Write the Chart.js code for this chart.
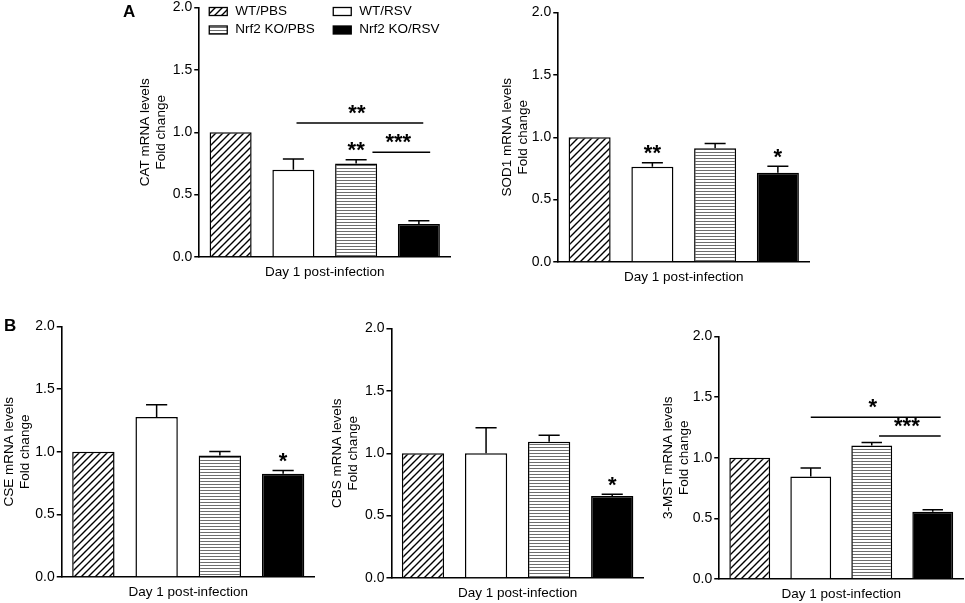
<!DOCTYPE html>
<html lang="en">
<head>
    <meta charset="UTF-8">
    <title>Antioxidant enzyme mRNA levels, day 1 post-infection</title>
    <style>
        html, body {
            margin: 0;
            padding: 0;
            width: 965px;
            height: 603px;
            overflow: hidden;
            background: #ffffff;
            font-family: "Liberation Sans", Arial, sans-serif;
        }

        canvas {
            position: absolute;
        }

        .tag {
            position: absolute;
            font-weight: bold;
            font-size: 17px;
            line-height: 17px;
            color: #000;
            z-index: 2;
        }
    </style>
</head>
<body>
    <div class="tag" style="left:123px; top:3px;">A</div>
    <div class="tag" style="left:4px; top:317px;">B</div>

    <canvas id="cat"></canvas>
    <canvas id="sod1"></canvas>
    <canvas id="cse"></canvas>
    <canvas id="cbs"></canvas>
    <canvas id="mst"></canvas>

    <script src="https://cdn.jsdelivr.net/npm/chart.js"></script>
    <script>
        // groups and axis
        const groups = ['WT/PBS', 'WT/RSV', 'Nrf2 KO/PBS', 'Nrf2 KO/RSV'];
        const category = ['Day 1 post-infection'];
        const yTicks = [0, 0.5, 1.0, 1.5, 2.0];

        // CAT
        const catMean = [1.0, 0.70, 0.75, 0.265];
        const catErr = [0, 0.085, 0.03, 0.025];
        const catStars = ['', '', '**', ''];
        const catBrackets = [[1.05, 3.07, 1.075, '**'], [2.26, 3.18, 0.84, '***']];

        // SOD1
        const sodMean = [1.0, 0.763, 0.912, 0.715];
        const sodErr = [0, 0.032, 0.038, 0.053];
        const sodStars = ['', '**', '', '*'];

        // CSE
        const cseMean = [1.0, 1.277, 0.97, 0.824];
        const cseErr = [0, 0.098, 0.032, 0.027];
        const cseStars = ['', '', '', '*'];

        // CBS
        const cbsMean = [1.0, 1.0, 1.093, 0.658];
        const cbsErr = [0, 0.205, 0.051, 0.014];
        const cbsStars = ['', '', '', '*'];

        // 3-MST
        const mstMean = [1.0, 0.846, 1.101, 0.555];
        const mstErr = [0, 0.069, 0.025, 0.016];
        const mstStars = ['', '', '', ''];
        const mstBrackets = [[1.0, 3.13, 1.335, '*'], [2.12, 3.13, 1.18, '***']];

        const FONT = '"Liberation Sans", Arial, sans-serif';
        Chart.defaults.font.family = FONT;
        Chart.defaults.color = '#000';

        // fill patterns: diagonal hatch, white, horizontal stripes, black
        function diagonalHatch() {
            const c = document.createElement('canvas');
            c.width = 7; c.height = 7;
            const g = c.getContext('2d');
            g.fillStyle = '#fff';
            g.fillRect(0, 0, 7, 7);
            g.strokeStyle = '#000';
            g.lineWidth = 1.4;
            g.beginPath();
            g.moveTo(-1, 8); g.lineTo(8, -1);
            g.moveTo(-1, 1); g.lineTo(1, -1);
            g.moveTo(6, 8); g.lineTo(8, 6);
            g.stroke();
            return g.createPattern(c, 'repeat');
        }

        function horizontalStripes() {
            const c = document.createElement('canvas');
            c.width = 4; c.height = 3;
            const g = c.getContext('2d');
            g.fillStyle = '#fff';
            g.fillRect(0, 0, 4, 3);
            g.fillStyle = '#6e6e6e';
            g.fillRect(0, 1, 4, 1);
            return g.createPattern(c, 'repeat');
        }

        const fills = [diagonalHatch(), '#ffffff', horizontalStripes(), '#000000'];

        // upper error whiskers
        const errorBars = {
            id: 'errorBars',
            afterDatasetsDraw(chart, args, opts) {
                const y = chart.scales.y;
                const ctx = chart.ctx;
                ctx.save();
                ctx.strokeStyle = '#000';
                ctx.lineWidth = 1.5;
                chart.data.datasets.forEach((ds, i) => {
                    const e = opts.errs[i];
                    if (!e) return;
                    const bar = chart.getDatasetMeta(i).data[0];
                    const yTop = y.getPixelForValue(ds.data[0] + e);
                    const half = bar.width / 4;
                    ctx.beginPath();
                    ctx.moveTo(bar.x, bar.y);
                    ctx.lineTo(bar.x, yTop);
                    ctx.moveTo(bar.x - half, yTop);
                    ctx.lineTo(bar.x + half, yTop);
                    ctx.stroke();
                });
                ctx.restore();
            }
        };

        // asterisks over bars and comparison lines
        const sigMarks = {
            id: 'sigMarks',
            afterDatasetsDraw(chart, args, opts) {
                const y = chart.scales.y;
                const ctx = chart.ctx;
                const xs = chart.data.datasets.map((d, i) => chart.getDatasetMeta(i).data[0].x);
                const xAt = f => {
                    const i = Math.min(Math.floor(f), xs.length - 2);
                    return xs[i] + (f - i) * (xs[i + 1] - xs[i]);
                };
                ctx.save();
                ctx.font = 'bold 22px ' + FONT;
                ctx.textAlign = 'center';
                ctx.textBaseline = 'alphabetic';
                ctx.fillStyle = '#000';
                ctx.strokeStyle = '#000';
                ctx.lineWidth = 1.5;
                (opts.stars || []).forEach((s, i) => {
                    if (!s) return;
                    const top = chart.data.datasets[i].data[0] + (opts.errs[i] || 0);
                    ctx.fillText(s, xs[i], y.getPixelForValue(top) - 2.5);
                });
                (opts.brackets || []).forEach(([a, b, v, s]) => {
                    const x1 = xAt(a), x2 = xAt(b), py = y.getPixelForValue(v);
                    ctx.beginPath();
                    ctx.moveTo(x1, py);
                    ctx.lineTo(x2, py);
                    ctx.stroke();
                    ctx.fillText(s, (x1 + x2) / 2 - 3, py - 3);
                });
                ctx.restore();
            }
        };

        // two-column legend inside the first panel
        const boxLegend = {
            id: 'boxLegend',
            afterDraw(chart, args, opts) {
                if (!opts.show) return;
                const ctx = chart.ctx;
                const area = chart.chartArea;
                const cols = [10, 134];
                const rows = [4, 22.5];
                ctx.save();
                ctx.font = '13.5px ' + FONT;
                ctx.textBaseline = 'middle';
                ctx.textAlign = 'left';
                chart.data.datasets.forEach((ds, i) => {
                    const bx = area.left + cols[i % 2];
                    const by = area.top + rows[Math.floor(i / 2)];
                    ctx.fillStyle = ds.backgroundColor;
                    ctx.fillRect(bx, by - 4, 18, 8);
                    ctx.strokeStyle = '#000';
                    ctx.lineWidth = 1.3;
                    ctx.strokeRect(bx, by - 4, 18, 8);
                    ctx.fillStyle = '#000';
                    ctx.fillText(ds.label, bx + 26, by - 0.5);
                });
                ctx.restore();
            }
        };

        function makePanel(id, box, title, means, errs, stars, brackets, legend) {
            const lh = 16.5;
            const canvas = document.getElementById(id);
            const left = box.labelX - lh / 2 - 2;
            const top = box.top - 17.5;
            canvas.width = Math.round(box.right + 4 - left);
            canvas.height = Math.round(box.bottom - top + 26);
            canvas.style.left = left + 'px';
            canvas.style.top = top + 'px';

            new Chart(canvas, {
                type: 'bar',
                data: {
                    labels: category,
                    datasets: groups.map((g, i) => ({
                        label: g,
                        data: [means[i]],
                        backgroundColor: fills[i],
                        borderColor: '#000',
                        borderWidth: 1.5,
                        categoryPercentage: 1.0,
                        barPercentage: 0.67
                    }))
                },
                options: {
                    responsive: false,
                    animation: false,
                    devicePixelRatio: 1,
                    layout: { padding: { top: 17.5, right: canvas.width - (box.right - left), left: 0, bottom: 0 } },
                    plugins: {
                        legend: { display: false },
                        tooltip: { enabled: false },
                        errorBars: { errs: errs },
                        sigMarks: { errs: errs, stars: stars, brackets: brackets },
                        boxLegend: { show: legend }
                    },
                    scales: {
                        x: {
                            grid: { display: false, drawTicks: false },
                            border: { display: true, color: '#000', width: 1.6 },
                            ticks: { color: '#000', padding: 7, font: { size: 13.5 } },
                            afterFit: s => { s.height = 26; }
                        },
                        y: {
                            min: 0,
                            max: 2,
                            afterBuildTicks: s => { s.ticks = yTicks.map(v => ({ value: v })); },
                            ticks: {
                                color: '#000',
                                padding: 2,
                                font: { size: 14 },
                                callback: v => Number(v).toFixed(1)
                            },
                            grid: {
                                display: true,
                                drawOnChartArea: false,
                                drawTicks: true,
                                tickLength: 5,
                                color: '#000',
                                lineWidth: 1.5
                            },
                            border: { display: true, color: '#000', width: 1.6 },
                            title: {
                                display: true,
                                text: title,
                                color: '#000',
                                padding: { top: 2, bottom: 0 },
                                font: { size: 13.5, lineHeight: lh / 13.5 }
                            },
                            afterFit: s => { s.width = box.left - left; }
                        }
                    }
                },
                plugins: [errorBars, sigMarks, boxLegend]
            });
        }

        makePanel('cat', { left: 199, right: 450, top: 7.5, bottom: 257, labelX: 145 },
            ['CAT mRNA levels', 'Fold change'], catMean, catErr, catStars, catBrackets, true);
        makePanel('sod1', { left: 558, right: 809, top: 12.3, bottom: 262, labelX: 507 },
            ['SOD1 mRNA levels', 'Fold change'], sodMean, sodErr, sodStars, [], false);
        makePanel('cse', { left: 62, right: 315, top: 326.7, bottom: 577.3, labelX: 9.5 },
            ['CSE mRNA levels', 'Fold change'], cseMean, cseErr, cseStars, [], false);
        makePanel('cbs', { left: 391.7, right: 644, top: 328.3, bottom: 578.3, labelX: 337.5 },
            ['CBS mRNA levels', 'Fold change'], cbsMean, cbsErr, cbsStars, [], false);
        makePanel('mst', { left: 719, right: 963, top: 336.7, bottom: 579.3, labelX: 668 },
            ['3-MST mRNA levels', 'Fold change'], mstMean, mstErr, mstStars, mstBrackets, false);
    </script>
</body>
</html>
